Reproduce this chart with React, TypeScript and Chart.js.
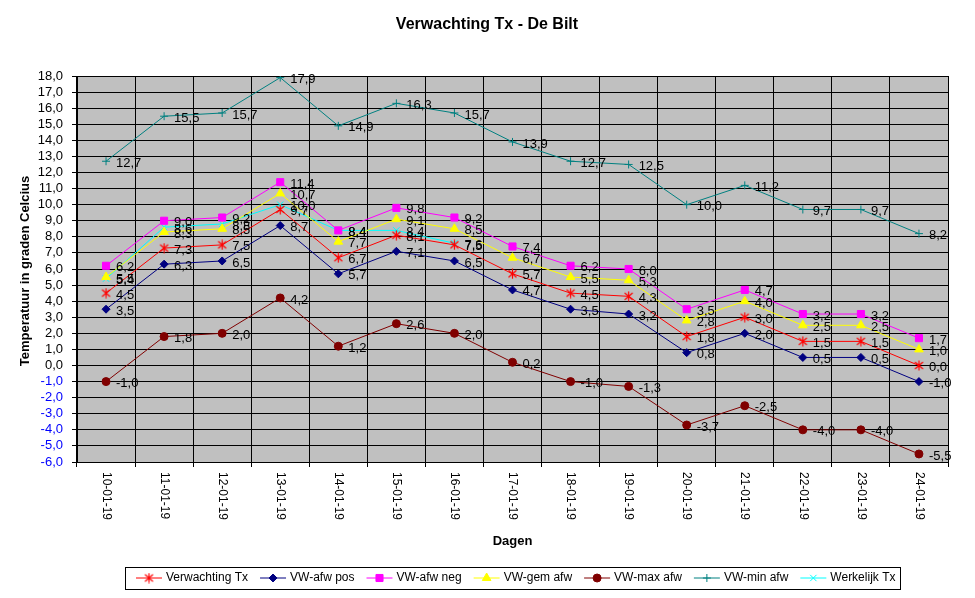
import { useEffect, useRef } from 'react';
import { Chart, registerables } from 'chart.js';
import { drawPoint } from 'chart.js/helpers';

Chart.register(...registerables);

const FONT = '"Liberation Sans", Arial, sans-serif';

const days = [
  '10-01-19', '11-01-19', '12-01-19', '13-01-19', '14-01-19', '15-01-19', '16-01-19', '17-01-19',
  '18-01-19', '19-01-19', '20-01-19', '21-01-19', '22-01-19', '23-01-19', '24-01-19',
];

const verwachting = [4.5, 7.3, 7.5, 9.7, 6.7, 8.1, 7.5, 5.7, 4.5, 4.3, 1.8, 3.0, 1.5, 1.5, 0.0];
const afwPos = [3.5, 6.3, 6.5, 8.7, 5.7, 7.1, 6.5, 4.7, 3.5, 3.2, 0.8, 2.0, 0.5, 0.5, -1.0];
const afwNeg = [6.2, 9.0, 9.2, 11.4, 8.4, 9.8, 9.2, 7.4, 6.2, 6.0, 3.5, 4.7, 3.2, 3.2, 1.7];
const gemAfw = [5.5, 8.3, 8.5, 10.7, 7.7, 9.1, 8.5, 6.7, 5.5, 5.3, 2.8, 4.0, 2.5, 2.5, 1.0];
const maxAfw = [-1.0, 1.8, 2.0, 4.2, 1.2, 2.6, 2.0, 0.2, -1.0, -1.3, -3.7, -2.5, -4.0, -4.0, -5.5];
const minAfw = [12.7, 15.5, 15.7, 17.9, 14.9, 16.3, 15.7, 13.9, 12.7, 12.5, 10.0, 11.2, 9.7, 9.7, 8.2];
const werkelijk = [5.4, 8.6, 8.8, 10.0, 8.4, 8.4, 7.6, null, null, null, null, null, null, null, null];

const fmt = (v: number) => v.toFixed(1).replace('.', ',');

// excel-style asterisk marker: an X with a vertical bar
function asterisk(color: string) {
  const c = document.createElement('canvas');
  c.width = 11;
  c.height = 11;
  const g = c.getContext('2d')!;
  g.strokeStyle = color;
  g.lineWidth = 1.2;
  g.beginPath();
  g.moveTo(5.5, 0.5); g.lineTo(5.5, 10.5);
  g.moveTo(1.5, 2); g.lineTo(9.5, 9);
  g.moveTo(9.5, 2); g.lineTo(1.5, 9);
  g.stroke();
  return c;
}

// grey plot background
const plotBg = {
  id: 'plotBg',
  beforeDraw(chart: any) {
    const { ctx, chartArea: a } = chart;
    ctx.save();
    ctx.fillStyle = '#C0C0C0';
    ctx.fillRect(a.left, a.top, a.right - a.left, a.bottom - a.top);
    ctx.restore();
  },
};

// value labels right of each point
const valueLabels = {
  id: 'valueLabels',
  afterDatasetsDraw(chart: any) {
    const { ctx } = chart;
    ctx.save();
    ctx.font = `13px ${FONT}`;
    ctx.fillStyle = '#000';
    ctx.textAlign = 'left';
    ctx.textBaseline = 'middle';
    chart.data.datasets.forEach((ds: any, i: number) => {
      const meta = chart.getDatasetMeta(i);
      meta.data.forEach((pt: any, j: number) => {
        const v = ds.data[j];
        if (v === null || v === undefined) return;
        ctx.fillText(fmt(v), pt.x + 10, pt.y + 2);
      });
    });
    ctx.restore();
  },
};

// titles, rotated day labels and the boxed legend
const decorations = {
  id: 'decorations',
  afterDraw(chart: any) {
    const { ctx, chartArea: a } = chart;
    const xs = chart.scales.x;
    ctx.save();
    ctx.fillStyle = '#000';

    ctx.font = `bold 16px ${FONT}`;
    ctx.textAlign = 'center';
    ctx.textBaseline = 'middle';
    ctx.fillText('Verwachting Tx - De Bilt', 487, 25);

    ctx.font = `bold 13px ${FONT}`;
    ctx.fillText('Dagen', (a.left + a.right) / 2, 541);

    ctx.save();
    ctx.translate(25, (a.top + a.bottom) / 2 + 2);
    ctx.rotate(-Math.PI / 2);
    ctx.font = `bold 13px ${FONT}`;
    ctx.fillText('Temperatuur in graden Celcius', 0, 0);
    ctx.restore();

    ctx.font = `12px ${FONT}`;
    ctx.textAlign = 'left';
    days.forEach((d, i) => {
      const x = xs.getPixelForValue(i);
      ctx.save();
      ctx.translate(x, a.bottom + 10);
      ctx.rotate(Math.PI / 2);
      ctx.fillText(d, 0, 0);
      ctx.restore();
    });

    // legend
    ctx.strokeStyle = '#000';
    ctx.lineWidth = 1;
    ctx.strokeRect(125.5, 567.5, 775, 22);
    let x = 136;
    const y = 578;
    chart.data.datasets.forEach((ds: any) => {
      ctx.strokeStyle = ds.borderColor;
      ctx.fillStyle = ds.borderColor;
      ctx.lineWidth = 1;
      ctx.beginPath();
      ctx.moveTo(x, y);
      ctx.lineTo(x + 26, y);
      ctx.stroke();
      drawPoint(ctx, {
        pointStyle: ds.pointStyle,
        radius: ds.pointRadius,
        borderWidth: 1,
        rotation: 0,
      } as any, x + 13, y);
      ctx.fillStyle = '#000';
      ctx.fillText(ds.label, x + 30, y);
      x += 30 + ctx.measureText(ds.label).width + 12;
    });
    ctx.restore();
  },
};

function series(label: string, data: (number | null)[], color: string, pointStyle: any, radius: number) {
  return {
    label,
    data,
    borderColor: color,
    backgroundColor: color,
    borderWidth: 1,
    pointStyle,
    pointRadius: radius,
    pointHoverRadius: radius,
    pointBorderWidth: 1,
    pointBorderColor: color,
    pointBackgroundColor: color,
    tension: 0,
    spanGaps: false,
  };
}

export default function App() {
  const canvasRef = useRef<HTMLCanvasElement | null>(null);
  const chartRef = useRef<Chart | null>(null);

  useEffect(() => {
    document.body.style.margin = '0';
    const ctx = canvasRef.current?.getContext('2d');
    if (!ctx) return;
    if (chartRef.current) chartRef.current.destroy();

    chartRef.current = new Chart(ctx, {
      type: 'line',
      data: {
        labels: days,
        datasets: [
          series('Verwachting Tx', verwachting, '#FF0000', asterisk('#FF0000'), 5),
          series('VW-afw pos', afwPos, '#000080', 'rectRot', 4),
          series('VW-afw neg', afwNeg, '#FF00FF', 'rect', 5),
          series('VW-gem afw', gemAfw, '#FFFF00', 'triangle', 5),
          series('VW-max afw', maxAfw, '#800000', 'circle', 4),
          series('VW-min afw', minAfw, '#008080', 'cross', 4),
          series('Werkelijk Tx', werkelijk, '#00FFFF', 'crossRot', 4.5),
        ] as any,
      },
      options: {
        responsive: true,
        maintainAspectRatio: false,
        animation: false,
        layout: { padding: { top: 76, right: 27, left: 0, bottom: 0 } },
        plugins: {
          legend: { display: false },
          title: { display: false },
          tooltip: { enabled: false },
        },
        scales: {
          x: {
            offset: true,
            grid: { offset: true, color: '#000', lineWidth: 1, drawTicks: true, tickLength: 5 },
            border: { color: '#000' },
            ticks: { display: false },
            afterFit: (s: any) => { s.height = 598 - 76 - 386; },
          },
          y: {
            min: -6,
            max: 18,
            grid: { color: '#000', lineWidth: 1, drawTicks: true, tickLength: 5 },
            border: { color: '#000' },
            ticks: {
              stepSize: 1,
              autoSkip: false,
              padding: 9,
              font: { family: FONT, size: 13 },
              color: (c: any) => (c.tick && c.tick.value < 0 ? '#0000FF' : '#000000'),
              callback: (v: any) => fmt(Number(v)),
            },
            afterFit: (s: any) => { s.width = 77; },
          },
        },
      },
      plugins: [plotBg, valueLabels, decorations],
    });

    return () => {
      if (chartRef.current) chartRef.current.destroy();
      chartRef.current = null;
    };
  }, []);

  return (
    <div style={{ width: 975, height: 598, background: '#fff' }}>
      <canvas ref={canvasRef} />
    </div>
  );
}
